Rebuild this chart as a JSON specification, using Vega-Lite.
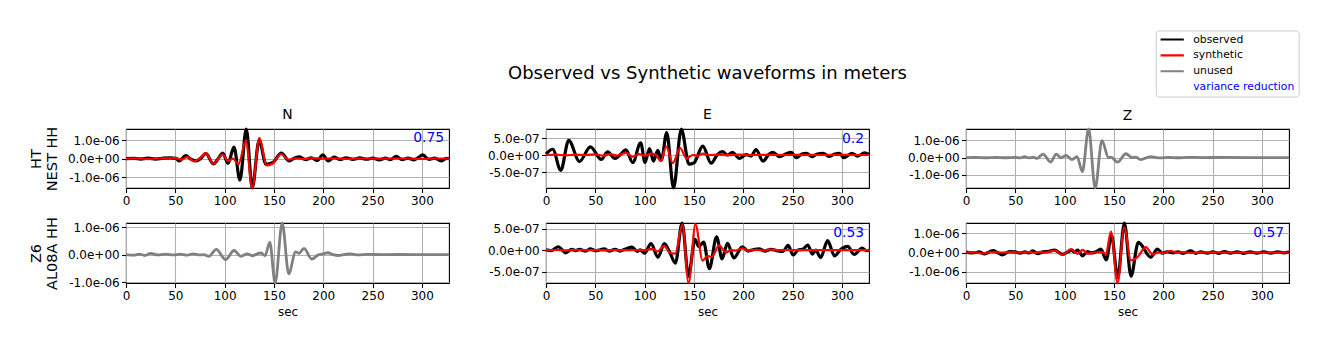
{
"$schema": "https://vega.github.io/schema/vega-lite/v6.json",
"autosize": {"type": "none"},
"padding": {"left": 126, "top": 129, "right": 1203, "bottom": 222},
"background": "white",
"title": {"text": "Observed vs Synthetic waveforms in meters", "frame": "group", "anchor": "start", "align": "center", "dx": 581.5, "baseline": "alphabetic", "offset": -67, "fontSize": 18, "fontWeight": "normal", "font": "DejaVu Sans", "color": "black"},
"columns": 3,
"bounds": "flush",
"spacing": {"row": 35, "column": 97},
"datasets": {
"nest_n": [
{"series":"observed","t":0,"amp":0},{"series":"observed","t":8,"amp":0.02e-6},{"series":"observed","t":15,"amp":-0.02e-6},{"series":"observed","t":22,"amp":0.03e-6},{"series":"observed","t":30,"amp":-0.02e-6},{"series":"observed","t":38,"amp":0.03e-6},{"series":"observed","t":45,"amp":0.04e-6},{"series":"observed","t":50.5,"amp":0.02e-6},{"series":"observed","t":54,"amp":-0.12e-6},{"series":"observed","t":60.5,"amp":0.16e-6},{"series":"observed","t":66,"amp":-0.03e-6},{"series":"observed","t":71,"amp":-0.12e-6},{"series":"observed","t":76,"amp":0.02e-6},{"series":"observed","t":81,"amp":0.28e-6},{"series":"observed","t":88.5,"amp":-0.28e-6},{"series":"observed","t":94,"amp":0.04e-6},{"series":"observed","t":98,"amp":0.3e-6},{"series":"observed","t":103.5,"amp":-0.25e-6},{"series":"observed","t":109.5,"amp":0.62e-6},{"series":"observed","t":115.5,"amp":-1.15e-6},{"series":"observed","t":122,"amp":1.59e-6},{"series":"observed","t":128,"amp":-1.57e-6},{"series":"observed","t":135,"amp":1.0e-6},{"series":"observed","t":142,"amp":-0.3e-6},{"series":"observed","t":148.5,"amp":-0.22e-6},{"series":"observed","t":157.5,"amp":0.3e-6},{"series":"observed","t":165.5,"amp":-0.12e-6},{"series":"observed","t":171,"amp":0.04e-6},{"series":"observed","t":176,"amp":0.1e-6},{"series":"observed","t":182,"amp":-0.05e-6},{"series":"observed","t":188,"amp":0.05e-6},{"series":"observed","t":194,"amp":-0.1e-6},{"series":"observed","t":199.5,"amp":0.2e-6},{"series":"observed","t":205,"amp":-0.12e-6},{"series":"observed","t":211,"amp":0.08e-6},{"series":"observed","t":217,"amp":-0.05e-6},{"series":"observed","t":223,"amp":0.05e-6},{"series":"observed","t":230,"amp":-0.04e-6},{"series":"observed","t":237,"amp":0.04e-6},{"series":"observed","t":244,"amp":-0.03e-6},{"series":"observed","t":250,"amp":0.03e-6},{"series":"observed","t":257,"amp":-0.06e-6},{"series":"observed","t":263,"amp":0.03e-6},{"series":"observed","t":268,"amp":-0.05e-6},{"series":"observed","t":274,"amp":0.12e-6},{"series":"observed","t":280,"amp":-0.05e-6},{"series":"observed","t":286,"amp":0.03e-6},{"series":"observed","t":292,"amp":-0.06e-6},{"series":"observed","t":301,"amp":0.2e-6},{"series":"observed","t":307,"amp":-0.04e-6},{"series":"observed","t":313,"amp":0.03e-6},{"series":"observed","t":319.5,"amp":-0.12e-6},{"series":"observed","t":325,"amp":0.02e-6},{"series":"observed","t":327.5,"amp":0},
{"series":"synthetic","t":0,"amp":0},{"series":"synthetic","t":12,"amp":0.02e-6},{"series":"synthetic","t":22,"amp":-0.02e-6},{"series":"synthetic","t":32,"amp":0.01e-6},{"series":"synthetic","t":42,"amp":0.02e-6},{"series":"synthetic","t":50,"amp":0.03e-6},{"series":"synthetic","t":56,"amp":-0.05e-6},{"series":"synthetic","t":62.5,"amp":0.1e-6},{"series":"synthetic","t":69,"amp":-0.15e-6},{"series":"synthetic","t":74.5,"amp":0.02e-6},{"series":"synthetic","t":81,"amp":0.3e-6},{"series":"synthetic","t":88.5,"amp":-0.27e-6},{"series":"synthetic","t":98,"amp":0.22e-6},{"series":"synthetic","t":103.5,"amp":-0.12e-6},{"series":"synthetic","t":108.5,"amp":0.0},{"series":"synthetic","t":114,"amp":-0.3e-6},{"series":"synthetic","t":121.5,"amp":0.95e-6},{"series":"synthetic","t":128,"amp":-1.57e-6},{"series":"synthetic","t":135.3,"amp":1.12e-6},{"series":"synthetic","t":142.5,"amp":-0.36e-6},{"series":"synthetic","t":148,"amp":-0.28e-6},{"series":"synthetic","t":157.3,"amp":0.25e-6},{"series":"synthetic","t":164.5,"amp":-0.05e-6},{"series":"synthetic","t":171,"amp":0.02e-6},{"series":"synthetic","t":180,"amp":-0.02e-6},{"series":"synthetic","t":190,"amp":0.03e-6},{"series":"synthetic","t":200,"amp":0.0},{"series":"synthetic","t":210,"amp":0.02e-6},{"series":"synthetic","t":225,"amp":-0.01e-6},{"series":"synthetic","t":240,"amp":0.01e-6},{"series":"synthetic","t":260,"amp":0.0},{"series":"synthetic","t":280,"amp":0.01e-6},{"series":"synthetic","t":300,"amp":-0.01e-6},{"series":"synthetic","t":315,"amp":0.01e-6},{"series":"synthetic","t":327.5,"amp":0}
],
"nest_e": [
{"series":"observed","t":0,"amp":0.3e-7},{"series":"observed","t":6.8,"amp":1.7e-7},{"series":"observed","t":15,"amp":-4.5e-7},{"series":"observed","t":23,"amp":4.3e-7},{"series":"observed","t":34,"amp":-1.9e-7},{"series":"observed","t":45,"amp":2.4e-7},{"series":"observed","t":56,"amp":-1.3e-7},{"series":"observed","t":62.5,"amp":0.9e-7},{"series":"observed","t":70,"amp":-1.0e-7},{"series":"observed","t":75,"amp":0.0},{"series":"observed","t":81,"amp":1.5e-7},{"series":"observed","t":88,"amp":-2.2e-7},{"series":"observed","t":96,"amp":3.6e-7},{"series":"observed","t":100.4,"amp":-2.2e-7},{"series":"observed","t":105,"amp":1.9e-7},{"series":"observed","t":109,"amp":-1.8e-7},{"series":"observed","t":113.3,"amp":1.4e-7},{"series":"observed","t":117,"amp":-1.5e-7},{"series":"observed","t":122.4,"amp":6.6e-7},{"series":"observed","t":129.3,"amp":-9.7e-7},{"series":"observed","t":137.2,"amp":7.65e-7},{"series":"observed","t":145,"amp":-2.7e-7},{"series":"observed","t":150,"amp":-2.3e-7},{"series":"observed","t":159,"amp":2.6e-7},{"series":"observed","t":167.4,"amp":-2.4e-7},{"series":"observed","t":174,"amp":0.2e-7},{"series":"observed","t":179,"amp":1.0e-7},{"series":"observed","t":184,"amp":0.0},{"series":"observed","t":189,"amp":0.8e-7},{"series":"observed","t":196,"amp":-1.0e-7},{"series":"observed","t":203,"amp":0.1e-7},{"series":"observed","t":208,"amp":-0.3e-7},{"series":"observed","t":213,"amp":1.6e-7},{"series":"observed","t":220,"amp":-1.8e-7},{"series":"observed","t":226,"amp":0.2e-7},{"series":"observed","t":230,"amp":0.8e-7},{"series":"observed","t":237,"amp":-0.5e-7},{"series":"observed","t":243,"amp":0.3e-7},{"series":"observed","t":248.6,"amp":0.8e-7},{"series":"observed","t":254,"amp":-0.8e-7},{"series":"observed","t":259,"amp":0.2e-7},{"series":"observed","t":264,"amp":0.5e-7},{"series":"observed","t":270,"amp":-0.5e-7},{"series":"observed","t":275,"amp":0.3e-7},{"series":"observed","t":281,"amp":0.5e-7},{"series":"observed","t":287,"amp":-0.4e-7},{"series":"observed","t":292,"amp":0.2e-7},{"series":"observed","t":297.6,"amp":0.5e-7},{"series":"observed","t":302,"amp":-0.8e-7},{"series":"observed","t":310,"amp":0.5e-7},{"series":"observed","t":316,"amp":-0.3e-7},{"series":"observed","t":323,"amp":0.6e-7},{"series":"observed","t":327.5,"amp":0.2e-7},
{"series":"synthetic","t":0,"amp":0},{"series":"synthetic","t":10,"amp":0.1e-7},{"series":"synthetic","t":20,"amp":-0.1e-7},{"series":"synthetic","t":30,"amp":0.1e-7},{"series":"synthetic","t":40,"amp":0.0},{"series":"synthetic","t":50,"amp":0.2e-7},{"series":"synthetic","t":58,"amp":-0.2e-7},{"series":"synthetic","t":65,"amp":0.3e-7},{"series":"synthetic","t":72,"amp":-0.2e-7},{"series":"synthetic","t":81,"amp":0.6e-7},{"series":"synthetic","t":88,"amp":-0.5e-7},{"series":"synthetic","t":94,"amp":0.3e-7},{"series":"synthetic","t":100,"amp":-0.2e-7},{"series":"synthetic","t":107,"amp":0.4e-7},{"series":"synthetic","t":111,"amp":0.2e-7},{"series":"synthetic","t":116.5,"amp":-1.8e-7},{"series":"synthetic","t":122,"amp":2.5e-7},{"series":"synthetic","t":128.5,"amp":-2.4e-7},{"series":"synthetic","t":136,"amp":2.0e-7},{"series":"synthetic","t":142.5,"amp":-1.0e-7},{"series":"synthetic","t":149,"amp":0.0},{"series":"synthetic","t":154,"amp":-0.2e-7},{"series":"synthetic","t":159,"amp":0.4e-7},{"series":"synthetic","t":165,"amp":0.0},{"series":"synthetic","t":175,"amp":0.1e-7},{"series":"synthetic","t":185,"amp":-0.05e-7},{"series":"synthetic","t":195,"amp":0.1e-7},{"series":"synthetic","t":210,"amp":0.0},{"series":"synthetic","t":225,"amp":0.05e-7},{"series":"synthetic","t":240,"amp":0.0},{"series":"synthetic","t":260,"amp":0.05e-7},{"series":"synthetic","t":280,"amp":0.0},{"series":"synthetic","t":300,"amp":0.05e-7},{"series":"synthetic","t":315,"amp":0.0},{"series":"synthetic","t":327.5,"amp":0.0}
],
"nest_z": [
{"series":"unused","t":0,"amp":0},{"series":"unused","t":10,"amp":0.01e-6},{"series":"unused","t":20,"amp":-0.01e-6},{"series":"unused","t":30,"amp":0.01e-6},{"series":"unused","t":40,"amp":-0.01e-6},{"series":"unused","t":50,"amp":0.01e-6},{"series":"unused","t":55,"amp":-0.02e-6},{"series":"unused","t":59.5,"amp":0.05e-6},{"series":"unused","t":64,"amp":-0.02e-6},{"series":"unused","t":68,"amp":0.03e-6},{"series":"unused","t":72,"amp":-0.05e-6},{"series":"unused","t":78,"amp":0.2e-6},{"series":"unused","t":85.8,"amp":-0.26e-6},{"series":"unused","t":91.5,"amp":0.2e-6},{"series":"unused","t":96,"amp":-0.01e-6},{"series":"unused","t":101.6,"amp":0.12e-6},{"series":"unused","t":107.5,"amp":-0.12e-6},{"series":"unused","t":112.6,"amp":0.05e-6},{"series":"unused","t":118,"amp":-0.82e-6},{"series":"unused","t":124.3,"amp":1.66e-6},{"series":"unused","t":131,"amp":-1.77e-6},{"series":"unused","t":137.8,"amp":0.98e-6},{"series":"unused","t":144.5,"amp":0.0},{"series":"unused","t":147,"amp":0.02e-6},{"series":"unused","t":153.7,"amp":-0.27e-6},{"series":"unused","t":162,"amp":0.22e-6},{"series":"unused","t":168.5,"amp":0.0},{"series":"unused","t":172,"amp":0.02e-6},{"series":"unused","t":177,"amp":-0.12e-6},{"series":"unused","t":182,"amp":-0.03e-6},{"series":"unused","t":187.5,"amp":0.05e-6},{"series":"unused","t":193,"amp":0.0},{"series":"unused","t":198,"amp":-0.02e-6},{"series":"unused","t":205,"amp":0.01e-6},{"series":"unused","t":215,"amp":-0.01e-6},{"series":"unused","t":225,"amp":0.01e-6},{"series":"unused","t":240,"amp":0.0},{"series":"unused","t":260,"amp":0.005e-6},{"series":"unused","t":290,"amp":0.0},{"series":"unused","t":327.5,"amp":0}
],
"al08a_n": [
{"series":"unused","t":0,"amp":0},{"series":"unused","t":8,"amp":-0.02e-6},{"series":"unused","t":14,"amp":0.02e-6},{"series":"unused","t":19,"amp":-0.03e-6},{"series":"unused","t":25,"amp":0.05e-6},{"series":"unused","t":32,"amp":-0.01e-6},{"series":"unused","t":40,"amp":0.02e-6},{"series":"unused","t":48,"amp":-0.01e-6},{"series":"unused","t":55,"amp":0.02e-6},{"series":"unused","t":62,"amp":-0.02e-6},{"series":"unused","t":68,"amp":0.03e-6},{"series":"unused","t":75,"amp":-0.01e-6},{"series":"unused","t":79,"amp":0.0},{"series":"unused","t":84,"amp":-0.06e-6},{"series":"unused","t":91.5,"amp":0.19e-6},{"series":"unused","t":101,"amp":-0.18e-6},{"series":"unused","t":109.5,"amp":0.15e-6},{"series":"unused","t":116.5,"amp":-0.06e-6},{"series":"unused","t":123,"amp":0.03e-6},{"series":"unused","t":128,"amp":-0.04e-6},{"series":"unused","t":133,"amp":0.03e-6},{"series":"unused","t":137,"amp":0.06e-6},{"series":"unused","t":141,"amp":-0.04e-6},{"series":"unused","t":145.8,"amp":0.45e-6},{"series":"unused","t":151.2,"amp":-1.03e-6},{"series":"unused","t":158.4,"amp":1.15e-6},{"series":"unused","t":165,"amp":-0.69e-6},{"series":"unused","t":172,"amp":0.1e-6},{"series":"unused","t":175.5,"amp":0.05e-6},{"series":"unused","t":180.5,"amp":0.23e-6},{"series":"unused","t":188.3,"amp":-0.16e-6},{"series":"unused","t":195,"amp":-0.01e-6},{"series":"unused","t":200,"amp":0.03e-6},{"series":"unused","t":204.6,"amp":0.07e-6},{"series":"unused","t":210,"amp":0.0},{"series":"unused","t":215,"amp":-0.03e-6},{"series":"unused","t":222,"amp":0.01e-6},{"series":"unused","t":228,"amp":0.03e-6},{"series":"unused","t":235,"amp":-0.01e-6},{"series":"unused","t":245,"amp":0.01e-6},{"series":"unused","t":260,"amp":0.0},{"series":"unused","t":280,"amp":0.005e-6},{"series":"unused","t":300,"amp":0.0},{"series":"unused","t":327.5,"amp":0}
],
"al08a_e": [
{"series":"observed","t":0,"amp":0.1e-7},{"series":"observed","t":5,"amp":-0.1e-7},{"series":"observed","t":12.5,"amp":0.8e-7},{"series":"observed","t":20,"amp":-0.6e-7},{"series":"observed","t":26,"amp":0.2e-7},{"series":"observed","t":30,"amp":-0.1e-7},{"series":"observed","t":34,"amp":0.2e-7},{"series":"observed","t":40,"amp":-0.2e-7},{"series":"observed","t":45,"amp":0.3e-7},{"series":"observed","t":50,"amp":-0.1e-7},{"series":"observed","t":55,"amp":0.1e-7},{"series":"observed","t":59,"amp":0.3e-7},{"series":"observed","t":64,"amp":-0.2e-7},{"series":"observed","t":70,"amp":0.2e-7},{"series":"observed","t":75,"amp":-0.2e-7},{"series":"observed","t":80,"amp":0.2e-7},{"series":"observed","t":87.3,"amp":0.7e-7},{"series":"observed","t":92.5,"amp":-0.3e-7},{"series":"observed","t":95.5,"amp":0.1e-7},{"series":"observed","t":99.8,"amp":-0.7e-7},{"series":"observed","t":106.5,"amp":1.5e-7},{"series":"observed","t":113.5,"amp":-1.6e-7},{"series":"observed","t":120,"amp":1.5e-7},{"series":"observed","t":125.5,"amp":-0.5e-7},{"series":"observed","t":131.2,"amp":-3.0e-7},{"series":"observed","t":138,"amp":6.3e-7},{"series":"observed","t":144.5,"amp":-6.0e-7},{"series":"observed","t":151,"amp":2.5e-7},{"series":"observed","t":155,"amp":0.8e-7},{"series":"observed","t":159.8,"amp":1.9e-7},{"series":"observed","t":165.6,"amp":-4.3e-7},{"series":"observed","t":173,"amp":3.1e-7},{"series":"observed","t":178.5,"amp":-2.0e-7},{"series":"observed","t":184,"amp":1.6e-7},{"series":"observed","t":190.5,"amp":-1.8e-7},{"series":"observed","t":199,"amp":0.8e-7},{"series":"observed","t":205,"amp":-0.2e-7},{"series":"observed","t":210,"amp":0.1e-7},{"series":"observed","t":216,"amp":0.3e-7},{"series":"observed","t":222,"amp":-0.2e-7},{"series":"observed","t":228,"amp":0.2e-7},{"series":"observed","t":234,"amp":-0.1e-7},{"series":"observed","t":240,"amp":-0.3e-7},{"series":"observed","t":245.5,"amp":1.1e-7},{"series":"observed","t":250.5,"amp":-1.1e-7},{"series":"observed","t":256,"amp":0.1e-7},{"series":"observed","t":260,"amp":0.2e-7},{"series":"observed","t":265.5,"amp":1.2e-7},{"series":"observed","t":270,"amp":-0.9e-7},{"series":"observed","t":273.5,"amp":0.0},{"series":"observed","t":278.5,"amp":-1.7e-7},{"series":"observed","t":285.5,"amp":2.2e-7},{"series":"observed","t":292.5,"amp":-1.3e-7},{"series":"observed","t":299,"amp":0.2e-7},{"series":"observed","t":306,"amp":0.9e-7},{"series":"observed","t":312.5,"amp":-1.0e-7},{"series":"observed","t":320.5,"amp":0.5e-7},{"series":"observed","t":325,"amp":-0.1e-7},{"series":"observed","t":327.5,"amp":0.0},
{"series":"synthetic","t":0,"amp":0},{"series":"synthetic","t":10,"amp":0.05e-7},{"series":"synthetic","t":20,"amp":-0.05e-7},{"series":"synthetic","t":30,"amp":0.05e-7},{"series":"synthetic","t":40,"amp":0.0},{"series":"synthetic","t":50,"amp":0.05e-7},{"series":"synthetic","t":60,"amp":-0.05e-7},{"series":"synthetic","t":70,"amp":0.05e-7},{"series":"synthetic","t":80,"amp":0.0},{"series":"synthetic","t":90,"amp":0.05e-7},{"series":"synthetic","t":98,"amp":0.0},{"series":"synthetic","t":104,"amp":0.2e-7},{"series":"synthetic","t":108,"amp":0.3e-7},{"series":"synthetic","t":113,"amp":-0.3e-7},{"series":"synthetic","t":119.8,"amp":1.0e-7},{"series":"synthetic","t":125.8,"amp":-0.6e-7},{"series":"synthetic","t":131,"amp":-0.8e-7},{"series":"synthetic","t":138.3,"amp":6.0e-7},{"series":"synthetic","t":144.6,"amp":-7.6e-7},{"series":"synthetic","t":151.5,"amp":6.0e-7},{"series":"synthetic","t":158.8,"amp":-2.4e-7},{"series":"synthetic","t":164,"amp":-1.3e-7},{"series":"synthetic","t":168,"amp":-1.6e-7},{"series":"synthetic","t":175.5,"amp":1.1e-7},{"series":"synthetic","t":182.5,"amp":-0.5e-7},{"series":"synthetic","t":188,"amp":0.0},{"series":"synthetic","t":192,"amp":-0.1e-7},{"series":"synthetic","t":199,"amp":0.4e-7},{"series":"synthetic","t":206,"amp":-0.1e-7},{"series":"synthetic","t":213,"amp":0.1e-7},{"series":"synthetic","t":220,"amp":-0.1e-7},{"series":"synthetic","t":226,"amp":0.2e-7},{"series":"synthetic","t":232,"amp":0.0},{"series":"synthetic","t":245,"amp":0.05e-7},{"series":"synthetic","t":260,"amp":0.0},{"series":"synthetic","t":280,"amp":0.05e-7},{"series":"synthetic","t":300,"amp":0.0},{"series":"synthetic","t":327.5,"amp":0}
],
"al08a_z": [
{"series":"observed","t":0,"amp":0.02e-6},{"series":"observed","t":5,"amp":-0.02e-6},{"series":"observed","t":10.4,"amp":0.0},{"series":"observed","t":13,"amp":0.04e-6},{"series":"observed","t":18.9,"amp":-0.07e-6},{"series":"observed","t":27.3,"amp":0.1e-6},{"series":"observed","t":32,"amp":0.0},{"series":"observed","t":36.7,"amp":-0.12e-6},{"series":"observed","t":44,"amp":0.05e-6},{"series":"observed","t":50,"amp":0.03e-6},{"series":"observed","t":55,"amp":-0.03e-6},{"series":"observed","t":60,"amp":0.03e-6},{"series":"observed","t":64,"amp":-0.02e-6},{"series":"observed","t":67.7,"amp":0.09e-6},{"series":"observed","t":72.8,"amp":-0.06e-6},{"series":"observed","t":78,"amp":0.03e-6},{"series":"observed","t":83,"amp":0.05e-6},{"series":"observed","t":89.7,"amp":0.12e-6},{"series":"observed","t":98,"amp":-0.1e-6},{"series":"observed","t":103,"amp":0.03e-6},{"series":"observed","t":107.5,"amp":0.12e-6},{"series":"observed","t":110,"amp":0.02e-6},{"series":"observed","t":113.2,"amp":0.12e-6},{"series":"observed","t":118.3,"amp":-0.17e-6},{"series":"observed","t":123,"amp":0.05e-6},{"series":"observed","t":127,"amp":-0.02e-6},{"series":"observed","t":131,"amp":0.02e-6},{"series":"observed","t":136.8,"amp":0.17e-6},{"series":"observed","t":142.2,"amp":-0.38e-6},{"series":"observed","t":147.5,"amp":0.9e-6},{"series":"observed","t":153.8,"amp":-1.3e-6},{"series":"observed","t":160.6,"amp":1.52e-6},{"series":"observed","t":167.3,"amp":-1.22e-6},{"series":"observed","t":174.7,"amp":0.52e-6},{"series":"observed","t":187.4,"amp":-0.24e-6},{"series":"observed","t":194,"amp":0.17e-6},{"series":"observed","t":199,"amp":-0.03e-6},{"series":"observed","t":204,"amp":0.04e-6},{"series":"observed","t":210,"amp":-0.02e-6},{"series":"observed","t":215,"amp":0.04e-6},{"series":"observed","t":220,"amp":-0.04e-6},{"series":"observed","t":227.8,"amp":0.08e-6},{"series":"observed","t":233,"amp":-0.04e-6},{"series":"observed","t":238,"amp":0.03e-6},{"series":"observed","t":245,"amp":-0.03e-6},{"series":"observed","t":250,"amp":0.03e-6},{"series":"observed","t":256,"amp":-0.04e-6},{"series":"observed","t":262,"amp":0.05e-6},{"series":"observed","t":268,"amp":-0.03e-6},{"series":"observed","t":275,"amp":0.03e-6},{"series":"observed","t":281,"amp":-0.04e-6},{"series":"observed","t":288,"amp":0.03e-6},{"series":"observed","t":295,"amp":-0.03e-6},{"series":"observed","t":302,"amp":0.04e-6},{"series":"observed","t":309,"amp":-0.03e-6},{"series":"observed","t":316,"amp":0.04e-6},{"series":"observed","t":322,"amp":-0.02e-6},{"series":"observed","t":327.5,"amp":0.02e-6},
{"series":"synthetic","t":0,"amp":0},{"series":"synthetic","t":8,"amp":0.02e-6},{"series":"synthetic","t":17,"amp":-0.05e-6},{"series":"synthetic","t":25,"amp":0.02e-6},{"series":"synthetic","t":35,"amp":0.0},{"series":"synthetic","t":45,"amp":0.02e-6},{"series":"synthetic","t":55,"amp":0.0},{"series":"synthetic","t":65,"amp":0.02e-6},{"series":"synthetic","t":70,"amp":-0.02e-6},{"series":"synthetic","t":75,"amp":0.03e-6},{"series":"synthetic","t":80,"amp":0.0},{"series":"synthetic","t":89.7,"amp":0.1e-6},{"series":"synthetic","t":98,"amp":-0.12e-6},{"series":"synthetic","t":106.5,"amp":0.17e-6},{"series":"synthetic","t":113.2,"amp":-0.07e-6},{"series":"synthetic","t":118.3,"amp":0.14e-6},{"series":"synthetic","t":123.4,"amp":-0.07e-6},{"series":"synthetic","t":130,"amp":0.0},{"series":"synthetic","t":138.5,"amp":0.02e-6},{"series":"synthetic","t":141.8,"amp":-0.1e-6},{"series":"synthetic","t":147,"amp":1.08e-6},{"series":"synthetic","t":153.7,"amp":-1.57e-6},{"series":"synthetic","t":160.4,"amp":1.3e-6},{"series":"synthetic","t":167.2,"amp":-0.41e-6},{"series":"synthetic","t":173.9,"amp":-0.24e-6},{"series":"synthetic","t":182.3,"amp":0.28e-6},{"series":"synthetic","t":189,"amp":-0.09e-6},{"series":"synthetic","t":195,"amp":0.0},{"series":"synthetic","t":200,"amp":-0.02e-6},{"series":"synthetic","t":207.6,"amp":0.08e-6},{"series":"synthetic","t":213,"amp":0.0},{"series":"synthetic","t":220,"amp":0.02e-6},{"series":"synthetic","t":228,"amp":-0.02e-6},{"series":"synthetic","t":240,"amp":0.01e-6},{"series":"synthetic","t":260,"amp":0.0},{"series":"synthetic","t":290,"amp":0.0},{"series":"synthetic","t":327.5,"amp":0}
],
"vr_values": [
{"panel":"nest_n","vr":"0.75"},{"panel":"nest_e","vr":"0.2"},{"panel":"al08a_e","vr":"0.53"},{"panel":"al08a_z","vr":"0.57"}
]
},
"concat": [
{
"width": 323, "height": 59, "title": "N",
"resolve": {"scale": {"y": "independent"}, "axis": {"y": "independent"}},
"layer": [
{"data": {"name": "nest_n"},
 "encoding": {
 "x": {"field": "t", "type": "quantitative", "scale": {"domain": [0, 327.5], "nice": false, "zero": false}, "axis": {"values": [0,50,100,150,200,250,300], "title": null}},
 "y": {"field": "amp", "type": "quantitative", "scale": {"domain": [-1.57e-6, 1.59e-6], "nice": false, "zero": false}, "axis": {"values": [-1e-6, 0, 1e-6], "title": ["HT", "NEST HH"], "labelExpr": "replace(replace(replace(format(datum.value, '.1e'), '\u2212', '-'), 'e-', 'e-0'), 'e+', 'e+0')"}},
 "color": {"field": "series", "type": "nominal", "scale": {"domain": ["observed","synthetic","unused","variance reduction"], "range": ["#000000","#ff0000","#808080","#0000ff"]},
  "legend": {"title": null, "orient": "none", "legendX": 1029.7, "legendY": -98.5, "symbolType": "stroke", "symbolSize": 540, "symbolStrokeWidth": 2.1, "clipHeight": 11, "rowPadding": 3.9, "labelOffset": 8, "labelFontSize": 10.8, "labelFont": "DejaVu Sans", "labelColor": "black", "padding": 3.5, "strokeColor": "#cccccc", "fillColor": "white", "cornerRadius": 3,
    "encode": {"symbols": {"update": {"opacity": {"signal": "datum.value === 'variance reduction' ? 0 : 1"}}}, "labels": {"update": {"fill": {"signal": "datum.value === 'variance reduction' ? '#0000ff' : '#000000'"}}}}}}},
 "layer": [
 {"transform": [{"filter": "datum.series === 'observed'"}], "mark": {"type": "line", "strokeWidth": 3.2}},
 {"transform": [{"filter": "datum.series === 'synthetic'"}], "mark": {"type": "line", "strokeWidth": 2.2}}
]},
{"data": {"name": "vr_values"}, "transform": [{"filter": "datum.panel === 'nest_n'"}], "mark": {"type": "text", "align": "right", "baseline": "middle", "fontSize": 13.9, "font": "DejaVu Sans", "fill": "#0000ff"},
 "encoding": {"x": {"datum": 322.5, "type": "quantitative", "axis": {"values": [0,50,100,150,200,250,300], "title": null}}, "y": {"datum": 1.1e-6, "type": "quantitative", "scale": {"domain": [-1.57e-6, 1.59e-6], "nice": false, "zero": false}, "axis": null}, "text": {"field": "vr", "type": "nominal"}}}
]
},
{
"width": 323, "height": 59, "title": "E",
"resolve": {"scale": {"y": "independent"}, "axis": {"y": "independent"}},
"layer": [
{"data": {"name": "nest_e"},
 "encoding": {
 "x": {"field": "t", "type": "quantitative", "scale": {"domain": [0, 327.5], "nice": false, "zero": false}, "axis": {"values": [0,50,100,150,200,250,300], "title": null}},
 "y": {"field": "amp", "type": "quantitative", "scale": {"domain": [-9.7e-7, 7.65e-7], "nice": false, "zero": false}, "axis": {"values": [-5e-7, 0, 5e-7], "title": null, "labelExpr": "replace(replace(replace(format(datum.value, '.1e'), '\u2212', '-'), 'e-', 'e-0'), 'e+', 'e+0')"}},
 "color": {"field": "series", "type": "nominal"}},
 "layer": [
 {"transform": [{"filter": "datum.series === 'observed'"}], "mark": {"type": "line", "strokeWidth": 3.2}},
 {"transform": [{"filter": "datum.series === 'synthetic'"}], "mark": {"type": "line", "strokeWidth": 2.2}}
]},
{"data": {"name": "vr_values"}, "transform": [{"filter": "datum.panel === 'nest_e'"}], "mark": {"type": "text", "align": "right", "baseline": "middle", "fontSize": 13.9, "font": "DejaVu Sans", "fill": "#0000ff"},
 "encoding": {"x": {"datum": 322.5, "type": "quantitative", "axis": {"values": [0,50,100,150,200,250,300], "title": null}}, "y": {"datum": 4.85e-7, "type": "quantitative", "scale": {"domain": [-9.7e-7, 7.65e-7], "nice": false, "zero": false}, "axis": null}, "text": {"field": "vr", "type": "nominal"}}}
]
},
{
"width": 323, "height": 59, "title": "Z",
"layer": [
{"data": {"name": "nest_z"}, "mark": {"type": "line", "strokeWidth": 2.8},
 "encoding": {
 "x": {"field": "t", "type": "quantitative", "scale": {"domain": [0, 327.5], "nice": false, "zero": false}, "axis": {"values": [0,50,100,150,200,250,300], "title": null}},
 "y": {"field": "amp", "type": "quantitative", "scale": {"domain": [-1.77e-6, 1.66e-6], "nice": false, "zero": false}, "axis": {"values": [-1e-6, 0, 1e-6], "title": null, "labelExpr": "replace(replace(replace(format(datum.value, '.1e'), '\u2212', '-'), 'e-', 'e-0'), 'e+', 'e+0')"}},
 "color": {"field": "series", "type": "nominal"}}}
]
},
{
"width": 323, "height": 60,
"layer": [
{"data": {"name": "al08a_n"}, "mark": {"type": "line", "strokeWidth": 2.8},
 "encoding": {
 "x": {"field": "t", "type": "quantitative", "scale": {"domain": [0, 327.5], "nice": false, "zero": false}, "axis": {"values": [0,50,100,150,200,250,300], "title": "sec"}},
 "y": {"field": "amp", "type": "quantitative", "scale": {"domain": [-1.03e-6, 1.15e-6], "nice": false, "zero": false}, "axis": {"values": [-1e-6, 0, 1e-6], "title": ["Z6", "AL08A HH"], "labelExpr": "replace(replace(replace(format(datum.value, '.1e'), '\u2212', '-'), 'e-', 'e-0'), 'e+', 'e+0')"}},
 "color": {"field": "series", "type": "nominal"}}}
]
},
{
"width": 323, "height": 60,
"resolve": {"scale": {"y": "independent"}, "axis": {"y": "independent"}},
"layer": [
{"data": {"name": "al08a_e"},
 "encoding": {
 "x": {"field": "t", "type": "quantitative", "scale": {"domain": [0, 327.5], "nice": false, "zero": false}, "axis": {"values": [0,50,100,150,200,250,300], "title": "sec"}},
 "y": {"field": "amp", "type": "quantitative", "scale": {"domain": [-7.6e-7, 6.3e-7], "nice": false, "zero": false}, "axis": {"values": [-5e-7, 0, 5e-7], "title": null, "labelExpr": "replace(replace(replace(format(datum.value, '.1e'), '\u2212', '-'), 'e-', 'e-0'), 'e+', 'e+0')"}},
 "color": {"field": "series", "type": "nominal"}},
 "layer": [
 {"transform": [{"filter": "datum.series === 'observed'"}], "mark": {"type": "line", "strokeWidth": 3.2}},
 {"transform": [{"filter": "datum.series === 'synthetic'"}], "mark": {"type": "line", "strokeWidth": 2.2}}
]},
{"data": {"name": "vr_values"}, "transform": [{"filter": "datum.panel === 'al08a_e'"}], "mark": {"type": "text", "align": "right", "baseline": "middle", "fontSize": 13.9, "font": "DejaVu Sans", "fill": "#0000ff"},
 "encoding": {"x": {"datum": 322.5, "type": "quantitative", "axis": {"values": [0,50,100,150,200,250,300], "title": "sec"}}, "y": {"datum": 3.95e-7, "type": "quantitative", "scale": {"domain": [-7.6e-7, 6.3e-7], "nice": false, "zero": false}, "axis": null}, "text": {"field": "vr", "type": "nominal"}}}
]
},
{
"width": 323, "height": 60,
"resolve": {"scale": {"y": "independent"}, "axis": {"y": "independent"}},
"layer": [
{"data": {"name": "al08a_z"},
 "encoding": {
 "x": {"field": "t", "type": "quantitative", "scale": {"domain": [0, 327.5], "nice": false, "zero": false}, "axis": {"values": [0,50,100,150,200,250,300], "title": "sec"}},
 "y": {"field": "amp", "type": "quantitative", "scale": {"domain": [-1.57e-6, 1.52e-6], "nice": false, "zero": false}, "axis": {"values": [-1e-6, 0, 1e-6], "title": null, "labelExpr": "replace(replace(replace(format(datum.value, '.1e'), '\u2212', '-'), 'e-', 'e-0'), 'e+', 'e+0')"}},
 "color": {"field": "series", "type": "nominal"}},
 "layer": [
 {"transform": [{"filter": "datum.series === 'observed'"}], "mark": {"type": "line", "strokeWidth": 3.2}},
 {"transform": [{"filter": "datum.series === 'synthetic'"}], "mark": {"type": "line", "strokeWidth": 2.2}}
]},
{"data": {"name": "vr_values"}, "transform": [{"filter": "datum.panel === 'al08a_z'"}], "mark": {"type": "text", "align": "right", "baseline": "middle", "fontSize": 13.9, "font": "DejaVu Sans", "fill": "#0000ff"},
 "encoding": {"x": {"datum": 322.5, "type": "quantitative", "axis": {"values": [0,50,100,150,200,250,300], "title": "sec"}}, "y": {"datum": 0.99e-6, "type": "quantitative", "scale": {"domain": [-1.57e-6, 1.52e-6], "nice": false, "zero": false}, "axis": null}, "text": {"field": "vr", "type": "nominal"}}}
]
}
],
"config": {
"font": "DejaVu Sans",
"view": {"stroke": "black", "strokeWidth": 1.1},
"line": {"interpolate": "monotone", "clip": true},
"axis": {"domain": false, "grid": true, "gridColor": "#b0b0b0", "gridWidth": 1.1, "gridOpacity": 1, "ticks": true, "tickColor": "black", "tickWidth": 1.1, "tickSize": 4.5, "labelFont": "DejaVu Sans", "labelFontSize": 12, "labelColor": "black", "labelFlush": false, "labelOverlap": false, "titleFont": "DejaVu Sans", "titleFontWeight": "normal", "titleColor": "black"},
"axisX": {"labelPadding": 3, "titleFontSize": 11.8, "titlePadding": 5},
"axisY": {"labelPadding": 2.3, "titleFontSize": 14.5, "titlePadding": 8, "titleLineHeight": 16},
"title": {"font": "DejaVu Sans", "fontSize": 13.9, "fontWeight": "normal", "color": "black", "offset": 1, "baseline": "alphabetic"}
}
}
